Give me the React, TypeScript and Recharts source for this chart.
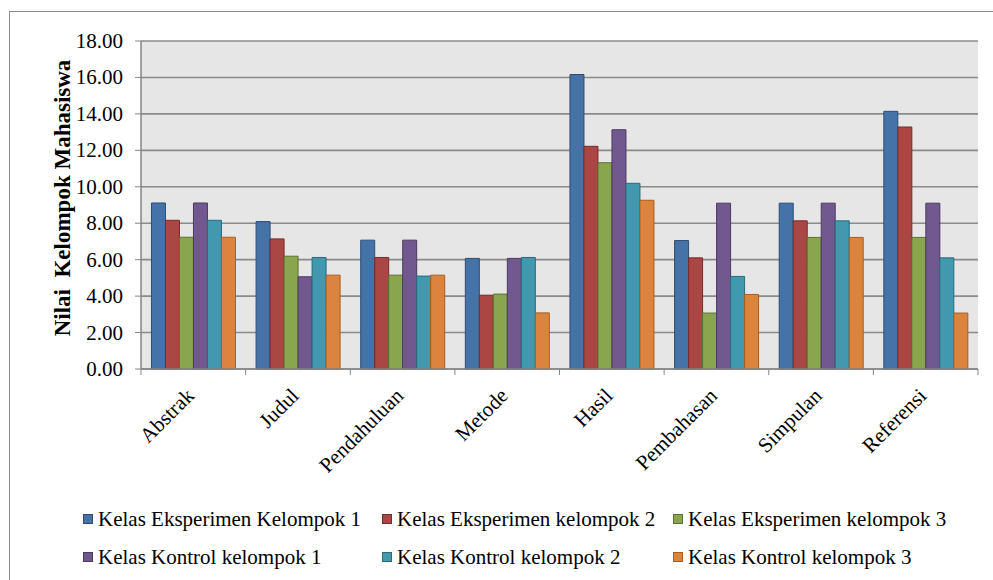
import { BarChart, Bar, XAxis, YAxis, CartesianGrid } from 'recharts';

const categories = ['Abstrak', 'Judul', 'Pendahuluan', 'Metode', 'Hasil', 'Pembahasan', 'Simpulan', 'Referensi'];

const eksperimenK1 = [9.11, 8.09, 7.07, 6.07, 16.16, 7.05, 9.1, 14.14];
const eksperimenK2 = [8.16, 7.14, 6.12, 4.05, 12.22, 6.1, 8.13, 13.28];
const eksperimenK3 = [7.23, 6.19, 5.15, 4.11, 11.32, 3.07, 7.22, 7.22];
const kontrolK1 = [9.11, 5.06, 7.07, 6.07, 13.13, 9.1, 9.1, 9.1];
const kontrolK2 = [8.16, 6.12, 5.1, 6.12, 10.19, 5.08, 8.13, 6.1];
const kontrolK3 = [7.23, 5.15, 5.15, 3.08, 9.26, 4.09, 7.22, 3.07];

const yTicks = [0, 2, 4, 6, 8, 10, 12, 14, 16, 18];

const series = [
  { key: 'ek1', name: 'Kelas Eksperimen Kelompok 1', values: eksperimenK1, fill: '#4572a7', stroke: '#2d4d75' },
  { key: 'ek2', name: 'Kelas Eksperimen kelompok 2', values: eksperimenK2, fill: '#aa4643', stroke: '#762c2a' },
  { key: 'ek3', name: 'Kelas Eksperimen kelompok 3', values: eksperimenK3, fill: '#89a54e', stroke: '#5c7131' },
  { key: 'kk1', name: 'Kelas Kontrol kelompok 1', values: kontrolK1, fill: '#71588f', stroke: '#4b3a60' },
  { key: 'kk2', name: 'Kelas Kontrol kelompok 2', values: kontrolK2, fill: '#4198af', stroke: '#2a6a7b' },
  { key: 'kk3', name: 'Kelas Kontrol kelompok 3', values: kontrolK3, fill: '#db843d', stroke: '#a85d20' },
];

const data = categories.map((name, i) => {
  const row: Record<string, any> = { name };
  series.forEach((s) => {
    row[s.key] = s.values[i];
  });
  return row;
});

const W = 993;
const H = 580;
const MARGIN = { top: 41, right: 15, bottom: 91, left: 0 };
const Y_AXIS_W = 141;
const X_AXIS_H = 120;
const PLOT_W = W - MARGIN.left - MARGIN.right - Y_AXIS_W;
const PLOT_BOTTOM = H - MARGIN.bottom - X_AXIS_H;
const BAND = PLOT_W / categories.length;

const FONT = 'Liberation Serif';
const AXIS_GRAY = '#868686';

const YTick = ({ x, y, payload }: any) => (
  <text x={x} y={y} textAnchor="end" dominantBaseline="central" fontFamily={FONT} fontSize={21} fill="#000">
    {Number(payload.value).toFixed(2)}
  </text>
);

// Excel-style: tick marks sit between the categories, labels rotated 45 degrees
const XTick = ({ x, payload }: any) => {
  const left = x - BAND / 2;
  const isLast = payload.index === categories.length - 1;
  return (
    <g>
      <line x1={left} y1={PLOT_BOTTOM} x2={left} y2={PLOT_BOTTOM + 6} stroke={AXIS_GRAY} />
      {isLast && (
        <line x1={x + BAND / 2} y1={PLOT_BOTTOM} x2={x + BAND / 2} y2={PLOT_BOTTOM + 6} stroke={AXIS_GRAY} />
      )}
      <text
        transform={`translate(${x + 2},${PLOT_BOTTOM + 28}) rotate(-45)`}
        textAnchor="end"
        fontFamily={FONT}
        fontSize={21}
        fill="#000"
      >
        {payload.value}
      </text>
    </g>
  );
};

const YTitle = ({ viewBox }: any) => {
  const cx = 62;
  const cy = viewBox.y + viewBox.height / 2 - 7;
  return (
    <text
      transform={`translate(${cx},${cy}) rotate(-90)`}
      textAnchor="middle"
      dominantBaseline="central"
      fontFamily={FONT}
      fontSize={23}
      fontWeight="bold"
      fill="#000"
    >
      {'Nilai \u00a0Kelompok Mahasiswa'}
    </text>
  );
};

// two rows of three entries under the plot
function ChartLegend() {
  const cols = [83, 382, 673];
  const rows = [519, 557];
  return (
    <svg width={W} height={H} style={{ position: 'absolute', left: 0, top: 0, pointerEvents: 'none' }}>
      {series.map((s, i) => {
        const x = cols[i % 3];
        const y = rows[Math.floor(i / 3)];
        return (
          <g key={s.key}>
            <rect x={x + 0.5} y={y - 4.5} width={9} height={9} fill={s.fill} stroke={s.stroke} />
            <text x={x + 15} y={y} dominantBaseline="central" fontFamily={FONT} fontSize={21} fill="#000">
              {s.name}
            </text>
          </g>
        );
      })}
    </svg>
  );
}

export default function App() {
  return (
    <div style={{ position: 'absolute', left: 0, top: 0, width: W, height: H, background: '#fff', overflow: 'hidden' }}>
      <div
        style={{
          position: 'absolute',
          left: 9,
          top: 11,
          width: 1010,
          height: 620,
          border: '1px solid #8c8c8c',
        }}
      />
      <div style={{ position: 'absolute', left: 0, top: 0 }}>
        <BarChart width={W} height={H} data={data} margin={MARGIN} barCategoryGap="10%" barGap={0}>
          <CartesianGrid vertical={false} stroke="#8a8a8a" strokeWidth={1.6} fill="#e6e6e6" />
          <XAxis
            dataKey="name"
            height={X_AXIS_H}
            axisLine={{ stroke: AXIS_GRAY, strokeWidth: 1.5 }}
            tickLine={false}
            tick={<XTick />}
            interval={0}
          />
          <YAxis
            width={Y_AXIS_W}
            domain={[0, 18]}
            ticks={yTicks}
            interval={0}
            axisLine={{ stroke: AXIS_GRAY, strokeWidth: 1.5 }}
            tickLine={{ stroke: AXIS_GRAY }}
            tickSize={6}
            tickMargin={12}
            tick={<YTick />}
            label={<YTitle />}
          />
          {series.map((s) => (
            <Bar
              key={s.key}
              dataKey={s.key}
              name={s.name}
              fill={s.fill}
              stroke={s.stroke}
              strokeWidth={1}
              isAnimationActive={false}
            />
          ))}
        </BarChart>
      </div>
      <ChartLegend />
    </div>
  );
}
